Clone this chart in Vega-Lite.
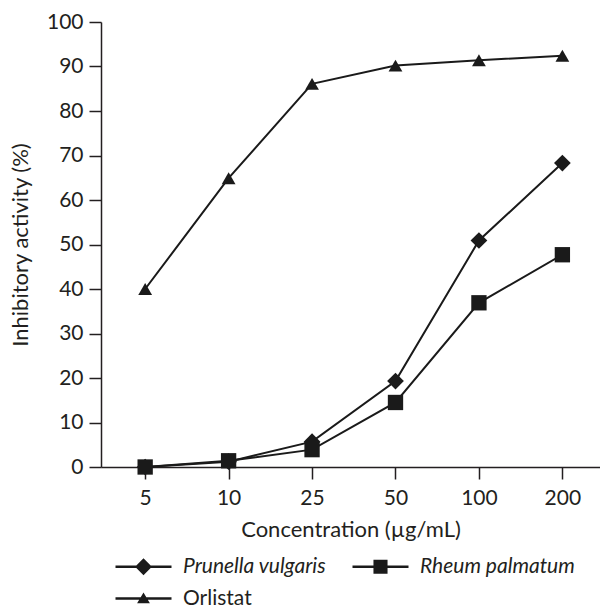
{
  "$schema": "https://vega.github.io/schema/vega-lite/v6.json",
  "width": 499,
  "height": 445,
  "autosize": {"type": "none"},
  "padding": {"left": 101, "top": 22, "right": 0, "bottom": 141},
  "config": {
    "view": {"stroke": null},
    "font": "Lato",
    "axis": {
      "grid": false,
      "domainColor": "#231f20",
      "domainWidth": 1.5,
      "tickColor": "#231f20",
      "tickWidth": 1.5,
      "tickSize": 12,
      "labelFont": "Lato",
      "labelFontSize": 21,
      "labelColor": "#231f20",
      "titleFont": "Lato",
      "titleFontSize": 22,
      "titleFontWeight": "normal",
      "titleColor": "#231f20"
    }
  },
  "data": {
    "values": [
      {"conc": 5, "series": "Prunella vulgaris", "value": 0},
      {"conc": 10, "series": "Prunella vulgaris", "value": 1.2},
      {"conc": 25, "series": "Prunella vulgaris", "value": 5.7},
      {"conc": 50, "series": "Prunella vulgaris", "value": 19.3},
      {"conc": 100, "series": "Prunella vulgaris", "value": 50.9},
      {"conc": 200, "series": "Prunella vulgaris", "value": 68.3},
      {"conc": 5, "series": "Rheum palmatum", "value": 0},
      {"conc": 10, "series": "Rheum palmatum", "value": 1.4},
      {"conc": 25, "series": "Rheum palmatum", "value": 3.9},
      {"conc": 50, "series": "Rheum palmatum", "value": 14.5},
      {"conc": 100, "series": "Rheum palmatum", "value": 36.9},
      {"conc": 200, "series": "Rheum palmatum", "value": 47.7},
      {"conc": 5, "series": "Orlistat", "value": 40},
      {"conc": 10, "series": "Orlistat", "value": 64.9},
      {"conc": 25, "series": "Orlistat", "value": 86.1},
      {"conc": 50, "series": "Orlistat", "value": 90.2},
      {"conc": 100, "series": "Orlistat", "value": 91.4},
      {"conc": 200, "series": "Orlistat", "value": 92.4}
    ]
  },
  "encoding": {
    "x": {
      "field": "conc",
      "type": "ordinal",
      "scale": {"type": "point", "padding": 0.49, "align": 0.54},
      "axis": {"labelAngle": 0, "labelPadding": 8, "title": "Concentration (µg/mL)", "titlePadding": 11}
    },
    "y": {
      "field": "value",
      "type": "quantitative",
      "scale": {"domain": [0, 100]},
      "axis": {"values": [0, 10, 20, 30, 40, 50, 60, 70, 80, 90, 100], "labelPadding": 6, "title": "Inhibitory activity (%)", "titlePadding": 14}
    }
  },
  "layer": [
    {
      "mark": {"type": "line", "color": "#1a1a1a", "strokeWidth": 2},
      "encoding": {"detail": {"field": "series"}}
    },
    {
      "mark": {"type": "point", "filled": true, "color": "#1a1a1a", "opacity": 1, "strokeWidth": 0},
      "encoding": {
        "shape": {
          "field": "series",
          "type": "nominal",
          "scale": {"domain": ["Prunella vulgaris", "Rheum palmatum", "Orlistat"], "range": ["diamond", "square", "triangle-up"]},
          "legend": null
        },
        "size": {
          "field": "series",
          "type": "ordinal",
          "scale": {"domain": ["Prunella vulgaris", "Rheum palmatum", "Orlistat"], "range": [280, 190, 180]},
          "legend": null
        }
      }
    },
    {
      "mark": {"type": "point", "filled": true, "color": "#1a1a1a", "opacity": 0},
      "encoding": {
        "shape": {
          "field": "series",
          "type": "nominal",
          "scale": {
            "domain": ["Prunella vulgaris", "Rheum palmatum", "Orlistat"],
            "range": [
              "M-1,-0.15L6,-0.15L6,0.15L-1,0.15Z M2.5,-1.05L3.55,0L2.5,1.05L1.45,0Z",
              "M-1,-0.15L6,-0.15L6,0.15L-1,0.15Z M1.62,-0.88L3.38,-0.88L3.38,0.88L1.62,0.88Z",
              "M-1,-0.15L6,-0.15L6,0.15L-1,0.15Z M2.5,-0.75L3.3,0.6L1.7,0.6Z"
            ]
          },
          "legend": {
            "orient": "none",
            "legendX": 12,
            "legendY": 534,
            "direction": "horizontal",
            "columns": 2,
            "title": null,
            "symbolSize": 256,
            "symbolFillColor": "#1a1a1a",
            "symbolStrokeColor": "#1a1a1a",
            "symbolStrokeWidth": 0,
            "symbolOpacity": 1,
            "labelFont": "Lato",
            "labelFontSize": 21,
            "labelFontStyle": {"expr": "datum.label === 'Orlistat' ? 'normal' : 'italic'"},
            "labelColor": "#231f20",
            "labelOffset": 49,
            "labelLimit": 300,
            "columnPadding": 23,
            "rowPadding": 10
          }
        }
      }
    }
  ],
  "resolve": {"scale": {"shape": "independent"}}
}
